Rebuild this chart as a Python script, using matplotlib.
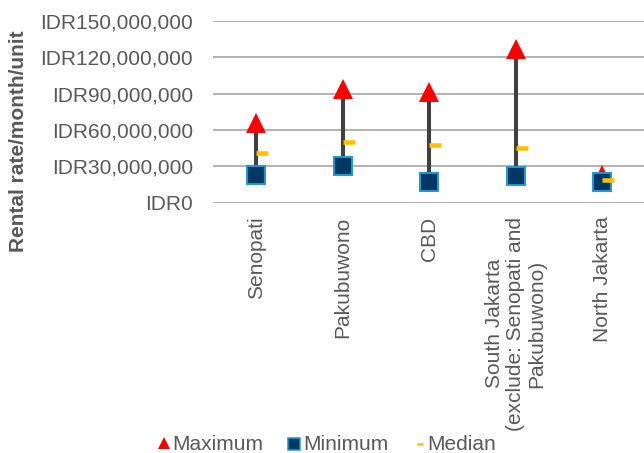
import matplotlib
matplotlib.use("Agg")
import matplotlib.pyplot as plt
import matplotlib.transforms as mtransforms
from matplotlib.lines import Line2D
from matplotlib.ticker import FuncFormatter
import numpy as np

plt.rcParams['font.family'] = ['Liberation Sans', 'DejaVu Sans']

areas = ["Senopati", "Pakubuwono", "CBD",
         "South Jakarta\n(exclude: Senopati and\nPakubuwono)", "North Jakarta"]
maximum = [66_000_000, 94_000_000, 91_000_000, 126_500_000, 22_500_000]
minimum = [23_000_000, 30_000_000, 17_000_000, 22_000_000, 17_000_000]
median = [41_000_000, 50_000_000, 47_500_000, 45_000_000, 18_500_000]

txt_col = "#595959"
grid_col = "#a6a6a6"
W, H = 644, 453

fig = plt.figure(figsize=(6.44, 4.53), dpi=100)
ax = fig.add_axes([0.331, 0.5525, 0.671, 0.4011])

x = np.arange(len(areas))

# high-low lines between min and max
ax.vlines(x, minimum, maximum, color="#404040", linewidth=2.9, zorder=2)
ax.plot(x, maximum, linestyle="none", marker="^", markersize=14.4,
        color="#ff0000", markeredgewidth=0, zorder=3)
ax.plot(x, minimum, linestyle="none", marker="s", markersize=13.2,
        markerfacecolor="#003865", markeredgecolor="#1a9ad6",
        markeredgewidth=1.4, zorder=4)
shift = mtransforms.ScaledTranslation(0.06, 0, fig.dpi_scale_trans)
ax.plot(x, median, linestyle="none", marker="_", markersize=8.6,
        markeredgewidth=3.3, color="#ffc000", zorder=5,
        transform=ax.transData + shift)

ax.set_xlim(-0.5, len(areas) - 0.5)
ax.set_ylim(0, 150_000_000)
ax.set_yticks(np.arange(0, 150_000_001, 30_000_000))
ax.yaxis.set_major_formatter(FuncFormatter(lambda v, p: "IDR{:,}".format(int(v))))
ax.set_xticks(x)
ax.set_xticklabels(areas, rotation=90, ha="center", va="top",
                   multialignment="center", linespacing=1.15)

ax.tick_params(axis="y", length=0, pad=14.4, labelsize=15, labelcolor=txt_col)
ax.tick_params(axis="x", length=0, pad=10, labelsize=15, labelcolor=txt_col)
for s in ax.spines.values():
    s.set_visible(False)
ax.grid(axis="y", color=grid_col, linewidth=1.2, zorder=0)
ax.set_axisbelow(True)

fig.text(19 / W, 1 - 141 / H, "Rental rate/month/unit", rotation=90,
         ha="center", va="center", fontsize=15, fontweight="bold", color=txt_col)

# legend row, laid out in figure pixels
def fx(px):
    return px / W

def fy(py):
    return 1 - py / H

fig.add_artist(Line2D([fx(164)], [fy(443)], linestyle="none", marker="^",
                      markersize=9, color="#ff0000", markeredgewidth=0,
                      transform=fig.transFigure))
fig.add_artist(Line2D([fx(293.5)], [fy(443.5)], linestyle="none", marker="s",
                      markersize=8.4, markerfacecolor="#003865",
                      markeredgecolor="#1a9ad6", markeredgewidth=1.1,
                      transform=fig.transFigure))
fig.add_artist(Line2D([fx(420)], [fy(444)], linestyle="none", marker="_",
                      markersize=4.4, markeredgewidth=1.8, color="#ffc000",
                      transform=fig.transFigure))
for left, label in [(172, "Maximum"), (303, "Minimum"), (427, "Median")]:
    fig.text(fx(left), fy(450), label, ha="left", va="baseline",
             fontsize=15, color=txt_col)

fig.savefig("out.png", dpi=100)
